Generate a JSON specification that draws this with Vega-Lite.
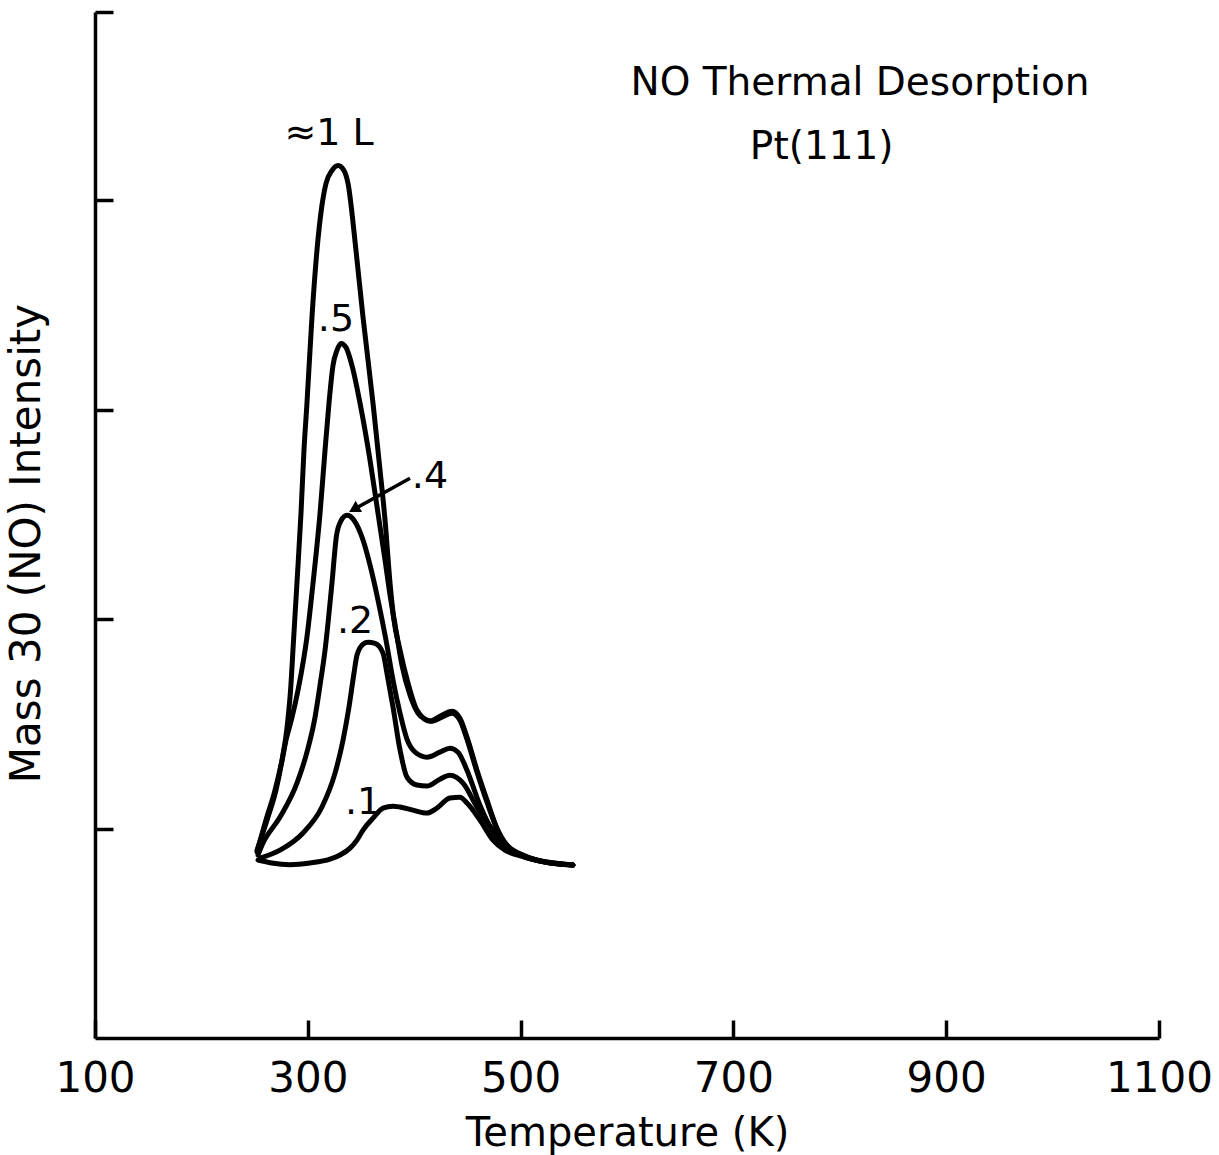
{
  "$schema": "https://vega.github.io/schema/vega-lite/v6.json",
  "width": 1064,
  "height": 1026,
  "autosize": {"type": "none"},
  "padding": {"left": 95, "top": 12, "right": 60, "bottom": 117},
  "background": "white",
  "config": {"view": {"stroke": null}, "font": "DejaVu Sans"},
  "datasets": {
    "curves": [
      {"series": "1L", "T": 252.3, "I": 0.897},
      {"series": "1L", "T": 262.6, "I": 1.055},
      {"series": "1L", "T": 270.1, "I": 1.184},
      {"series": "1L", "T": 275.8, "I": 1.327},
      {"series": "1L", "T": 280.5, "I": 1.484},
      {"series": "1L", "T": 283.8, "I": 1.661},
      {"series": "1L", "T": 286.6, "I": 1.9},
      {"series": "1L", "T": 289.8, "I": 2.172},
      {"series": "1L", "T": 293.6, "I": 2.506},
      {"series": "1L", "T": 296.4, "I": 2.807},
      {"series": "1L", "T": 299.2, "I": 3.031},
      {"series": "1L", "T": 303.9, "I": 3.442},
      {"series": "1L", "T": 308.6, "I": 3.761},
      {"series": "1L", "T": 313.3, "I": 3.976},
      {"series": "1L", "T": 317.1, "I": 4.081},
      {"series": "1L", "T": 322.7, "I": 4.143},
      {"series": "1L", "T": 328.4, "I": 4.167},
      {"series": "1L", "T": 334.0, "I": 4.143},
      {"series": "1L", "T": 337.8, "I": 4.081},
      {"series": "1L", "T": 345.3, "I": 3.761},
      {"series": "1L", "T": 351.9, "I": 3.442},
      {"series": "1L", "T": 361.3, "I": 3.031},
      {"series": "1L", "T": 367.9, "I": 2.711},
      {"series": "1L", "T": 372.6, "I": 2.473},
      {"series": "1L", "T": 377.3, "I": 2.172},
      {"series": "1L", "T": 380.6, "I": 2.01},
      {"series": "1L", "T": 386.7, "I": 1.852},
      {"series": "1L", "T": 394.2, "I": 1.695},
      {"series": "1L", "T": 402.6, "I": 1.566},
      {"series": "1L", "T": 414.8, "I": 1.513},
      {"series": "1L", "T": 424.2, "I": 1.537},
      {"series": "1L", "T": 435.5, "I": 1.561},
      {"series": "1L", "T": 443.0, "I": 1.527},
      {"series": "1L", "T": 449.6, "I": 1.437},
      {"series": "1L", "T": 459.0, "I": 1.279},
      {"series": "1L", "T": 468.4, "I": 1.136},
      {"series": "1L", "T": 477.8, "I": 1.002},
      {"series": "1L", "T": 487.2, "I": 0.921},
      {"series": "1L", "T": 502.3, "I": 0.874},
      {"series": "1L", "T": 522.9, "I": 0.84},
      {"series": "1L", "T": 549.2, "I": 0.826},

      {"series": "0.5", "T": 252.3, "I": 0.888},
      {"series": "0.5", "T": 260.7, "I": 1.041},
      {"series": "0.5", "T": 269.2, "I": 1.184},
      {"series": "0.5", "T": 275.8, "I": 1.327},
      {"series": "0.5", "T": 279.5, "I": 1.422},
      {"series": "0.5", "T": 285.2, "I": 1.532},
      {"series": "0.5", "T": 290.8, "I": 1.661},
      {"series": "0.5", "T": 296.4, "I": 1.819},
      {"series": "0.5", "T": 298.8, "I": 1.9},
      {"series": "0.5", "T": 304.9, "I": 2.172},
      {"series": "0.5", "T": 311.5, "I": 2.506},
      {"series": "0.5", "T": 316.2, "I": 2.807},
      {"series": "0.5", "T": 319.9, "I": 3.031},
      {"series": "0.5", "T": 323.7, "I": 3.212},
      {"series": "0.5", "T": 327.4, "I": 3.284},
      {"series": "0.5", "T": 331.2, "I": 3.317},
      {"series": "0.5", "T": 335.9, "I": 3.298},
      {"series": "0.5", "T": 341.5, "I": 3.212},
      {"series": "0.5", "T": 349.1, "I": 3.031},
      {"series": "0.5", "T": 358.5, "I": 2.759},
      {"series": "0.5", "T": 366.0, "I": 2.506},
      {"series": "0.5", "T": 372.6, "I": 2.282},
      {"series": "0.5", "T": 377.3, "I": 2.115},
      {"series": "0.5", "T": 382.9, "I": 1.947},
      {"series": "0.5", "T": 388.5, "I": 1.78},
      {"series": "0.5", "T": 396.1, "I": 1.637},
      {"series": "0.5", "T": 403.6, "I": 1.551},
      {"series": "0.5", "T": 410.2, "I": 1.523},
      {"series": "0.5", "T": 416.7, "I": 1.513},
      {"series": "0.5", "T": 426.1, "I": 1.532},
      {"series": "0.5", "T": 435.5, "I": 1.551},
      {"series": "0.5", "T": 443.0, "I": 1.518},
      {"series": "0.5", "T": 449.6, "I": 1.427},
      {"series": "0.5", "T": 459.0, "I": 1.27},
      {"series": "0.5", "T": 468.4, "I": 1.126},
      {"series": "0.5", "T": 477.8, "I": 0.998},
      {"series": "0.5", "T": 487.2, "I": 0.916},
      {"series": "0.5", "T": 502.3, "I": 0.869},
      {"series": "0.5", "T": 522.9, "I": 0.84},
      {"series": "0.5", "T": 549.2, "I": 0.826},

      {"series": "0.4", "T": 253.2, "I": 0.874},
      {"series": "0.4", "T": 257.9, "I": 0.931},
      {"series": "0.4", "T": 273.9, "I": 1.055},
      {"series": "0.4", "T": 289.8, "I": 1.217},
      {"series": "0.4", "T": 299.2, "I": 1.365},
      {"series": "0.4", "T": 306.8, "I": 1.532},
      {"series": "0.4", "T": 311.5, "I": 1.685},
      {"series": "0.4", "T": 316.2, "I": 1.852},
      {"series": "0.4", "T": 322.7, "I": 2.172},
      {"series": "0.4", "T": 327.0, "I": 2.4},
      {"series": "0.4", "T": 331.2, "I": 2.47},
      {"series": "0.4", "T": 336.8, "I": 2.496},
      {"series": "0.4", "T": 343.4, "I": 2.473},
      {"series": "0.4", "T": 351.9, "I": 2.378},
      {"series": "0.4", "T": 358.5, "I": 2.258},
      {"series": "0.4", "T": 366.0, "I": 2.091},
      {"series": "0.4", "T": 373.5, "I": 1.9},
      {"series": "0.4", "T": 380.1, "I": 1.709},
      {"series": "0.4", "T": 386.7, "I": 1.551},
      {"series": "0.4", "T": 393.2, "I": 1.427},
      {"series": "0.4", "T": 400.8, "I": 1.365},
      {"series": "0.4", "T": 412.0, "I": 1.341},
      {"series": "0.4", "T": 424.2, "I": 1.365},
      {"series": "0.4", "T": 433.6, "I": 1.384},
      {"series": "0.4", "T": 441.2, "I": 1.365},
      {"series": "0.4", "T": 449.6, "I": 1.279},
      {"series": "0.4", "T": 461.8, "I": 1.112},
      {"series": "0.4", "T": 475.9, "I": 0.969},
      {"series": "0.4", "T": 494.7, "I": 0.888},
      {"series": "0.4", "T": 518.2, "I": 0.845},
      {"series": "0.4", "T": 549.2, "I": 0.826},

      {"series": "0.2", "T": 255.1, "I": 0.859},
      {"series": "0.2", "T": 273.9, "I": 0.897},
      {"series": "0.2", "T": 295.5, "I": 0.979},
      {"series": "0.2", "T": 313.3, "I": 1.103},
      {"series": "0.2", "T": 325.6, "I": 1.265},
      {"series": "0.2", "T": 333.1, "I": 1.422},
      {"series": "0.2", "T": 338.7, "I": 1.58},
      {"series": "0.2", "T": 343.4, "I": 1.742},
      {"series": "0.2", "T": 346.2, "I": 1.828},
      {"series": "0.2", "T": 351.9, "I": 1.881},
      {"series": "0.2", "T": 356.6, "I": 1.89},
      {"series": "0.2", "T": 363.2, "I": 1.885},
      {"series": "0.2", "T": 370.7, "I": 1.838},
      {"series": "0.2", "T": 374.4, "I": 1.742},
      {"series": "0.2", "T": 380.1, "I": 1.58},
      {"series": "0.2", "T": 386.7, "I": 1.375},
      {"series": "0.2", "T": 393.2, "I": 1.246},
      {"series": "0.2", "T": 402.6, "I": 1.208},
      {"series": "0.2", "T": 412.0, "I": 1.203},
      {"series": "0.2", "T": 424.2, "I": 1.236},
      {"series": "0.2", "T": 433.6, "I": 1.255},
      {"series": "0.2", "T": 445.9, "I": 1.217},
      {"series": "0.2", "T": 459.0, "I": 1.103},
      {"series": "0.2", "T": 474.1, "I": 0.993},
      {"series": "0.2", "T": 490.0, "I": 0.907},
      {"series": "0.2", "T": 508.8, "I": 0.859},
      {"series": "0.2", "T": 549.2, "I": 0.826},

      {"series": "0.1", "T": 253.2, "I": 0.85},
      {"series": "0.1", "T": 266.0, "I": 0.836},
      {"series": "0.1", "T": 283.3, "I": 0.828},
      {"series": "0.1", "T": 302.1, "I": 0.836},
      {"series": "0.1", "T": 320.9, "I": 0.854},
      {"series": "0.1", "T": 330.3, "I": 0.874},
      {"series": "0.1", "T": 339.7, "I": 0.907},
      {"series": "0.1", "T": 346.2, "I": 0.945},
      {"series": "0.1", "T": 351.9, "I": 0.993},
      {"series": "0.1", "T": 361.3, "I": 1.05},
      {"series": "0.1", "T": 370.7, "I": 1.098},
      {"series": "0.1", "T": 380.1, "I": 1.107},
      {"series": "0.1", "T": 386.7, "I": 1.103},
      {"series": "0.1", "T": 398.9, "I": 1.088},
      {"series": "0.1", "T": 412.0, "I": 1.074},
      {"series": "0.1", "T": 421.4, "I": 1.098},
      {"series": "0.1", "T": 433.6, "I": 1.146},
      {"series": "0.1", "T": 443.0, "I": 1.15},
      {"series": "0.1", "T": 449.6, "I": 1.122},
      {"series": "0.1", "T": 461.8, "I": 1.041},
      {"series": "0.1", "T": 474.1, "I": 0.945},
      {"series": "0.1", "T": 485.3, "I": 0.897},
      {"series": "0.1", "T": 496.6, "I": 0.874},
      {"series": "0.1", "T": 518.2, "I": 0.845},
      {"series": "0.1", "T": 549.2, "I": 0.826}
    ],
    "labels": [
      {"T": 320, "I": 4.315, "label": "≈1 L"},
      {"T": 326.5, "I": 3.427, "label": ".5"},
      {"T": 414.8, "I": 2.678, "label": ".4"},
      {"T": 344.4, "I": 1.986, "label": ".2"},
      {"T": 351.9, "I": 1.122, "label": ".1"}
    ],
    "titles": [
      {"T": 819, "I": 4.563, "label": "NO Thermal Desorption"},
      {"T": 783, "I": 4.253, "label": "Pt(111)"}
    ],
    "arrow": [
      {"T": 396.1, "I": 2.673, "T2": 343.4, "I2": 2.525}
    ],
    "arrowhead": [
      {"T": 343.4, "I": 2.525}
    ]
  },
  "encoding": {
    "x": {
      "field": "T",
      "type": "quantitative",
      "scale": {"domain": [100, 1100], "nice": false, "zero": false},
      "axis": {
        "title": "Temperature (K)",
        "values": [100, 300, 500, 700, 900, 1100],
        "format": "d",
        "grid": false,
        "labelFontSize": 42,
        "labelFont": "DejaVu Sans",
        "labelColor": "black",
        "labelPadding": 38,
        "labelFlush": false,
        "tickSize": -18,
        "tickWidth": 3.5,
        "tickColor": "black",
        "domainWidth": 3.5,
        "domainColor": "black",
        "titleFont": "DejaVu Sans",
        "titleFontSize": 40,
        "titleFontWeight": "normal",
        "titleColor": "black",
        "titlePadding": 14
      }
    },
    "y": {
      "field": "I",
      "type": "quantitative",
      "scale": {"domain": [0, 4.9], "nice": false, "zero": false},
      "axis": {
        "title": "Mass 30 (NO) Intensity",
        "values": [1, 2, 3, 4, 4.9],
        "grid": false,
        "labels": false,
        "tickSize": -18,
        "tickWidth": 3.5,
        "tickColor": "black",
        "domainWidth": 3.5,
        "domainColor": "black",
        "titleFont": "DejaVu Sans",
        "titleFontSize": 42,
        "titleFontWeight": "normal",
        "titleColor": "black",
        "titlePadding": 45,
        "titleY": 531
      }
    }
  },
  "layer": [
    {
      "data": {"name": "curves"},
      "mark": {"type": "line", "interpolate": "monotone", "stroke": "black", "strokeWidth": 5, "strokeCap": "round", "strokeJoin": "round"},
      "encoding": {"detail": {"field": "series", "type": "nominal"}}
    },
    {
      "data": {"name": "labels"},
      "mark": {"type": "text", "fontSize": 38, "font": "DejaVu Sans", "align": "center", "baseline": "middle", "color": "black"},
      "encoding": {"text": {"field": "label", "type": "nominal"}}
    },
    {
      "data": {"name": "titles"},
      "mark": {"type": "text", "fontSize": 39, "font": "DejaVu Sans", "align": "center", "baseline": "middle", "color": "black"},
      "encoding": {"text": {"field": "label", "type": "nominal"}}
    },
    {
      "data": {"name": "arrow"},
      "mark": {"type": "rule", "stroke": "black", "strokeWidth": 3.5},
      "encoding": {
        "x2": {"field": "T2"},
        "y2": {"field": "I2"}
      }
    },
    {
      "data": {"name": "arrowhead"},
      "mark": {"type": "point", "shape": "triangle-up", "filled": true, "color": "black", "opacity": 1, "size": 170, "angle": 240},
      "encoding": {}
    }
  ]
}
